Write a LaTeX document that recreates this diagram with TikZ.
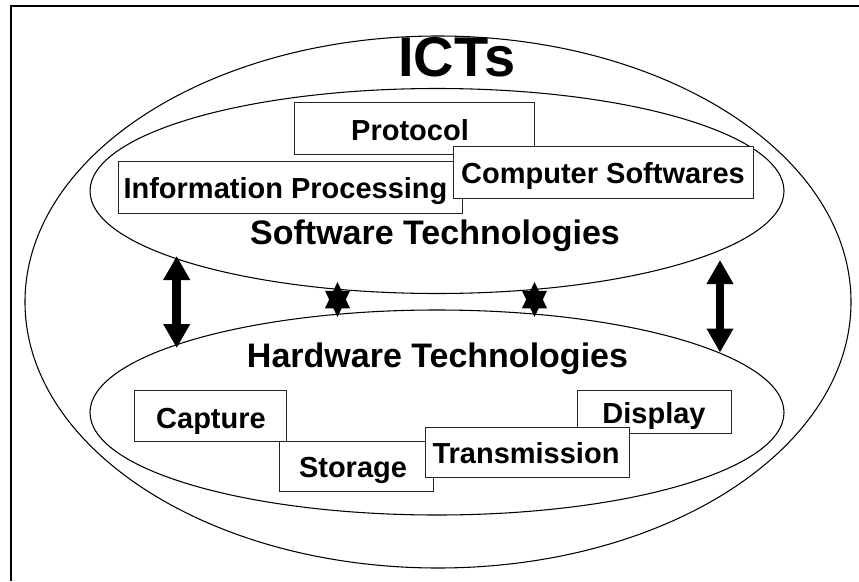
\documentclass[tikz,border=0pt]{standalone}
\usepackage{fontspec}
\setmainfont{Liberation Sans}
\usetikzlibrary{shapes.geometric,arrows.meta}
\begin{document}
\begin{tikzpicture}[x=0.75pt,y=-0.75pt,
  oval/.style={ellipse,draw=black,line width=0.8pt,inner sep=0pt},
  tbox/.style={rectangle,draw=black!85,line width=0.75pt,fill=white,inner sep=0pt},
  tlabel/.style={anchor=base,inner sep=0pt,font=\bfseries\fontsize{21.75}{26}\selectfont},
  biglabel/.style={anchor=base,inner sep=0pt,font=\bfseries\fontsize{25.5}{30}\selectfont},
  fatarrow/.style={line width=6.5pt,{Triangle[width=19pt,length=18pt]}-{Triangle[width=19pt,length=18pt]}},
  hexstar/.style={fill=black}]
\useasboundingbox (0,0) rectangle (859,581);
\fill[white] (0,0) rectangle (859,581);
% frame (right and bottom edges lie outside the picture)
\draw[line width=1.5pt] (10.5,581) -- (10.5,6.5) -- (859,6.5);
% ellipses
\node[oval,minimum width=826*0.75pt,minimum height=532*0.75pt] (outer) at (438,302) {};
\node[oval,minimum width=694*0.75pt,minimum height=205*0.75pt] (soft) at (437,191) {};
\node[oval,minimum width=694*0.75pt,minimum height=205*0.75pt] (hard) at (437,412.5) {};
% titles
\node[anchor=base,inner sep=0pt,font=\bfseries\fontsize{42}{48}\selectfont] (icts) at (457,77) {ICTs};
\node[biglabel] (softlbl) at (435,244) {Software Technologies};
\node[biglabel] (hardlbl) at (437.5,367) {Hardware Technologies};
% double arrows
\coordinate (lt) at (176.7,256);
\coordinate (lb) at (176.7,348);
\coordinate (rt) at (720,260);
\coordinate (rb) at (720,352.5);
\draw[fatarrow] (lt) -- (lb);
\draw[fatarrow] (rt) -- (rb);
% stars
\coordinate (s1) at (337.5,299.5);
\coordinate (s2) at (534.5,299.5);
\foreach \s in {s1,s2}{
  \fill[hexstar,shift={(\s)}] (0,-17.5) -- (12.5,8.75) -- (-12.5,8.75) -- cycle
     (0,17.5) -- (-12.5,-8.75) -- (12.5,-8.75) -- cycle;
}
% software boxes
\node[tbox,minimum width=240*0.75pt,minimum height=51*0.75pt] (protobox) at (414,128.5) {};
\node[tlabel] (proto) at (410,140.5) {Protocol};
\node[tbox,minimum width=344*0.75pt,minimum height=52*0.75pt] (ipbox) at (290,187) {};
\node[tlabel] (ip) at (285.5,198) {Information Processing};
\node[tbox,minimum width=300*0.75pt,minimum height=51*0.75pt] (csbox) at (603,172.5) {};
\node[tlabel] (cs) at (603,183) {Computer Softwares};
% hardware boxes
\node[tbox,minimum width=152*0.75pt,minimum height=51*0.75pt] (capbox) at (210,415.5) {};
\node[tlabel] (cap) at (211,428) {Capture};
\node[tbox,minimum width=154*0.75pt,minimum height=50*0.75pt] (stobox) at (356,466) {};
\node[tlabel] (sto) at (353,477) {Storage};
\node[tbox,minimum width=154*0.75pt,minimum height=43*0.75pt] (disbox) at (654,411.5) {};
\node[tlabel] (dis) at (654,423) {Display};
\node[tbox,minimum width=204*0.75pt,minimum height=50*0.75pt] (trbox) at (527,452) {};
\node[tlabel] (tr) at (526,463) {Transmission};
\end{tikzpicture}
\end{document}
